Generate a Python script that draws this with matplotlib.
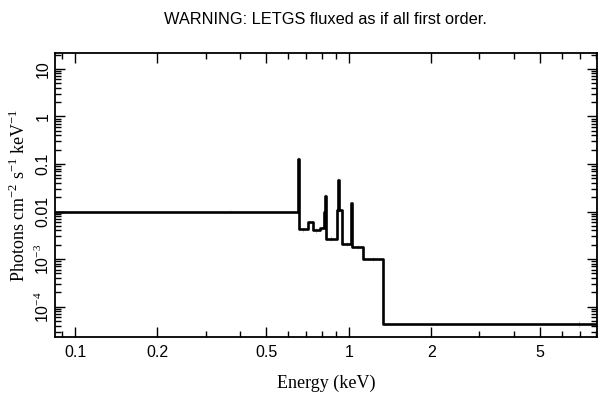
#!/usr/bin/env python3

# Unfolded LETGS spectrum plotted as a step function (XSPEC-style layout)

import numpy as np
import matplotlib
matplotlib.use("Agg")
import matplotlib.pyplot as plt
from matplotlib.ticker import FixedLocator, LogLocator, NullFormatter


# Bin edges (keV) and flux per bin (photons cm^-2 s^-1 keV^-1)
bin_lo = [0.084, 0.652, 0.656, 0.708, 0.740, 0.783, 0.812, 0.816, 0.823,
          0.903, 0.910, 0.914, 0.919, 0.943, 1.022, 1.030, 1.125, 1.330]
bin_hi = [0.652, 0.656, 0.708, 0.740, 0.783, 0.812, 0.816, 0.823, 0.903,
          0.910, 0.914, 0.919, 0.943, 1.022, 1.030, 1.125, 1.330, 12.5]
flux = [0.0100, 0.130, 0.0042, 0.0059, 0.0040, 0.0044, 0.0100, 0.021,
        0.0027, 0.011, 0.030, 0.047, 0.011, 0.0021, 0.015, 0.0018,
        0.0010, 4.3e-5]
flux_err = [0.0006, 0.008, 0.0004, 0.0005, 0.0004, 0.0004, 0.0008, 0.002,
            0.0003, 0.001, 0.002, 0.003, 0.001, 0.0002, 0.001, 0.0002,
            0.0001, 6e-6]

x_ticks = [0.1, 0.2, 0.5, 1, 2, 5]
x_tick_labels = ["0.1", "0.2", "0.5", "1", "2", "5"]
y_ticks = [1e1, 1, 0.1, 0.01, 1e-3, 1e-4]
y_tick_labels = ["10", "1", "0.1", "0.01", r"10$^{-3}$", r"10$^{-4}$"]

TITLE = "WARNING: LETGS fluxed as if all first order."
SANS = ["Liberation Sans", "DejaVu Sans"]
SERIF = ["Liberation Serif", "DejaVu Serif"]

plt.rcParams["mathtext.fontset"] = "custom"
plt.rcParams["mathtext.rm"] = "Liberation Serif"

fig = plt.figure(figsize=(6.09, 3.99), dpi=100)
ax = fig.add_axes([0.0903, 0.1554, 0.8897, 0.7116])

# Build the step outline from the bins
edges = bin_lo + [bin_hi[-1]]
vals = flux + [flux[-1]]
centers = [(lo + hi) / 2 for lo, hi in zip(bin_lo, bin_hi)]

ax.errorbar(centers, flux, yerr=flux_err, fmt="none", ecolor="0.8",
            elinewidth=0.8, capsize=0, zorder=1)
ax.step(edges, vals, where="post", color="black", linewidth=1.9, zorder=2)

ax.set_xscale("log")
ax.set_yscale("log")
ax.set_xlim(0.0845, 8.05)
ax.set_ylim(2.3e-5, 21.5)

ax.xaxis.set_major_locator(FixedLocator(x_ticks))
ax.set_xticklabels(x_tick_labels, fontfamily=SANS, fontsize=11.5)
ax.xaxis.set_minor_locator(LogLocator(base=10, subs=np.arange(2, 10)))
ax.xaxis.set_minor_formatter(NullFormatter())

ax.yaxis.set_major_locator(FixedLocator(y_ticks))
ax.set_yticklabels(y_tick_labels, fontfamily=SANS, fontsize=11.5,
                   rotation=90, va="center")
ax.yaxis.set_minor_locator(LogLocator(base=10, subs=np.arange(2, 10)))
ax.yaxis.set_minor_formatter(NullFormatter())

ax.tick_params(which="both", direction="in", top=True, right=True,
               width=1.0, colors="black")
ax.tick_params(axis="x", which="major", length=7, pad=6)
ax.tick_params(axis="y", which="major", length=7, pad=3)
ax.tick_params(which="minor", length=4)
for spine in ax.spines.values():
    spine.set_linewidth(1.3)

ax.set_xlabel("Energy (keV)", fontfamily=SERIF, fontsize=13, labelpad=10)
ax.set_ylabel(r"Photons cm$^{-2}$ s$^{-1}$ keV$^{-1}$", fontfamily=SERIF,
              fontsize=13, labelpad=3)
ax.set_title(TITLE, fontfamily=SANS, fontsize=11.8, pad=21)

fig.savefig("out.png", dpi=100)
